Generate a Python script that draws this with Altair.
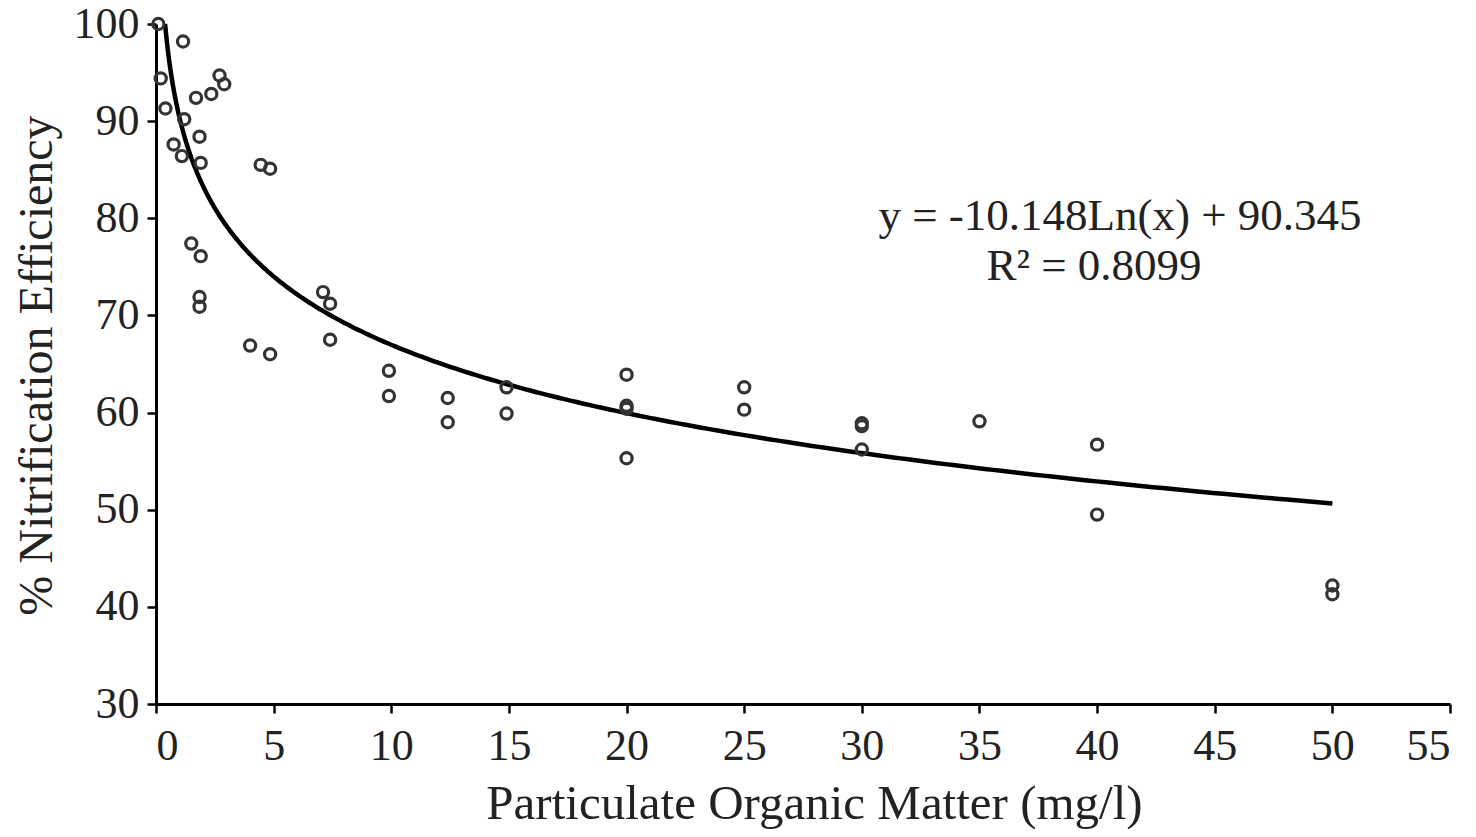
import altair as alt
import pandas as pd

pom = [0.1, 1.15, 2.7, 2.9, 2.35, 1.7, 0.2, 0.4, 1.2, 1.85, 0.75, 1.1, 1.9, 4.45, 4.85,
       1.5, 1.9, 1.85, 1.85, 7.1, 7.4, 7.4, 4.0, 4.85, 9.9, 9.9, 12.4, 12.4, 14.9, 14.9,
       20, 20, 20, 20, 25, 25, 30, 30, 30, 35, 40, 40, 50, 50]
efficiency = [100, 98.2, 94.7, 93.8, 92.8, 92.4, 94.4, 91.3, 90.2, 88.4, 87.6, 86.4, 85.7, 85.5, 85.1,
              77.4, 76.1, 71.9, 70.9, 72.4, 71.2, 67.5, 66.9, 66.0, 64.3, 61.7, 61.5, 59.0, 62.6, 59.9,
              63.9, 60.7, 60.4, 55.3, 62.6, 60.3, 58.9, 58.6, 56.2, 59.1, 56.7, 49.5, 42.2, 41.3]

# Trend line as printed in the figure: y = -10.148 Ln(x) + 90.345
slope = -10.148
intercept = 90.345
x_start = 0.386
x_end = 50

eq_lines = ["y = -10.148Ln(x) + 90.345", "R² = 0.8099"]

x_ticks = list(range(0, 56, 5))
y_ticks = list(range(30, 101, 10))

FONT = "Liberation Serif"
TXT = "#222"

df = pd.DataFrame({"pom": pom, "eff": efficiency})

xscale = alt.Scale(domain=[0, 55], nice=False, zero=False)
yscale = alt.Scale(domain=[30, 100], nice=False, zero=False)

xaxis = alt.Axis(values=x_ticks, title="Particulate Organic Matter (mg/l)", grid=False,
                 domainColor="black", domainWidth=3, tickColor="black", tickWidth=2.5, tickSize=9,
                 labelFont=FONT, labelFontSize=44, labelColor=TXT, labelPadding=11,
                 titleFont=FONT, titleFontSize=49, titleFontWeight="normal", titleColor=TXT,
                 titleX=658, titleY=114, titleBaseline="alphabetic", titleAlign="center")
yaxis = alt.Axis(values=y_ticks, title="% Nitrification Efficiency", grid=False,
                 domainColor="black", domainWidth=3, tickColor="black", tickWidth=2.5, tickSize=9,
                 labelFont=FONT, labelFontSize=44, labelColor=TXT, labelPadding=8,
                 titleFont=FONT, titleFontSize=48, titleFontWeight="normal", titleColor=TXT,
                 titleX=-95, titleY=341, titleAngle=270, titleBaseline="bottom", titleAlign="center")

points = alt.Chart(df).mark_point(shape="circle", filled=False, size=125, strokeWidth=3.2,
                                  color="#333", opacity=1).encode(
    x=alt.X("pom:Q", scale=xscale, axis=xaxis),
    y=alt.Y("eff:Q", scale=yscale, axis=yaxis),
)

curve = alt.Chart(alt.sequence(0, 1.0001, 0.002, as_="t")).transform_calculate(
    x=f"exp(log({x_start}) + datum.t * (log({x_end}) - log({x_start})))"
).transform_calculate(
    y=f"{slope} * log(datum.x) + {intercept}"
).mark_line(color="black", strokeWidth=4.5).encode(
    x=alt.X("x:Q", scale=xscale),
    y=alt.Y("y:Q", scale=yscale),
)

eq1 = alt.Chart(pd.DataFrame({"t": [eq_lines[0]]})).mark_text(
    font=FONT, fontSize=45, color=TXT, align="center", baseline="middle"
).encode(text="t:N", x=alt.value(964), y=alt.value(192))
eq2 = alt.Chart(pd.DataFrame({"t": [eq_lines[1]]})).mark_text(
    font=FONT, fontSize=45, color=TXT, align="center", baseline="middle"
).encode(text="t:N", x=alt.value(938), y=alt.value(242))

chart = alt.layer(curve, points, eq1, eq2).properties(
    width=1294, height=680,
    autosize=alt.AutoSizeParams(type="none"),
    padding={"left": 148, "top": 16, "right": 8, "bottom": 125},
    background="white",
).configure_view(strokeWidth=0, stroke=None)

chart.save("out.html", embed_options={"renderer": "svg", "actions": False})
